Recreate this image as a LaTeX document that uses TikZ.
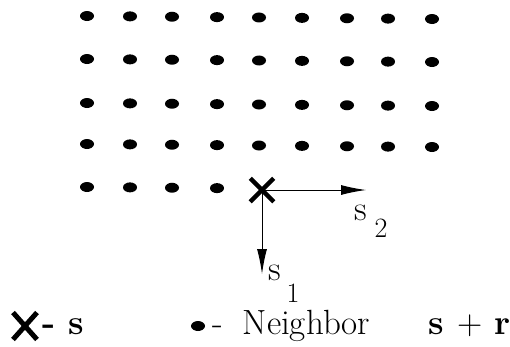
\documentclass[tikz,border=0pt]{standalone}
\usetikzlibrary{shapes.geometric,shapes.misc,arrows.meta}
\begin{document}
\begin{tikzpicture}[x=1pt,y=-1pt,
  dotnode/.style={ellipse,fill=black,inner sep=0pt,minimum width=14pt,minimum height=10pt},
  crossnode/.style={cross out,draw=black,line width=4.5pt,inner sep=0pt,minimum width=19pt,minimum height=19pt},
  vecarrow/.style={line width=1pt,-{Latex[length=25pt,width=10pt]}},
  txt/.style={inner sep=0pt,font=\fontsize{35}{40}\selectfont},
  subtxt/.style={inner sep=0pt,font=\fontsize{28}{32}\selectfont}]
\useasboundingbox (0,0) rectangle (510,346);
% lattice of neighbours
\foreach \xx [count=\i] in {87,130,172,217,259,302,347,388,432}{
  \foreach \yy [count=\j] in {16,59,103,144,187}{
    \pgfmathtruncatemacro{\skip}{(\j==5)*(\i>4)}
    \ifnum\skip=0
      \node[dotnode] (d-\i-\j) at (\xx,{\yy+3*(\xx-87)/345}) {};
    \fi
  }
}
% site s
\node[crossnode] (s) at (262,190) {};
\coordinate (e2) at (366,190);
\coordinate (e1) at (262,274);
\draw[vecarrow] (s.center) -- (e2);
\draw[vecarrow] (s.center) -- (e1);
\node[txt] (s2s) at (361,213) {s};
\node[subtxt] (s2n) at (381,228) {2};
\node[txt] (s1s) at (275,273) {s};
\node[subtxt] (s1n) at (293,293) {1};
% legend
\node[crossnode,minimum width=19pt,minimum height=22pt,line width=5pt] (lx) at (25,326) {};
\node[txt,anchor=base west] (ls) at (42,334) {\textbf{-}\hspace{13pt}\textbf{s}};
\node[dotnode] (ld) at (198,326) {};
\node[txt,anchor=base west] (ln) at (212,334) {-\hspace{20pt}Neighbor};
\node[txt,anchor=base west] (lr) at (428,334) {\textbf{s}\hspace{14pt}+\hspace{12pt}\textbf{r}};
\end{tikzpicture}
\end{document}
